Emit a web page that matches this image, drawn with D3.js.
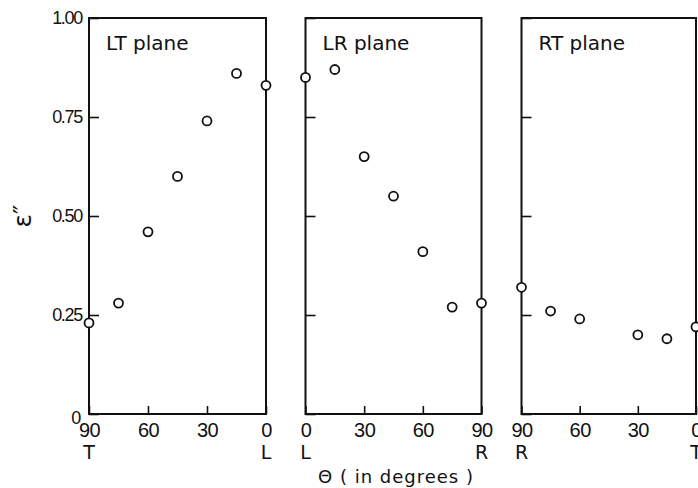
<!DOCTYPE html>
<html>
<head>
<meta charset="utf-8">
<script src="https://cdn.jsdelivr.net/npm/d3@7"></script>
<style>
  html, body { margin: 0; padding: 0; background: #fff; }
  svg { display: block; font-family: "DejaVu Sans", "Liberation Sans", sans-serif; }
</style>
</head>
<body>
<svg id="chart" width="698" height="488"></svg>
<script>
// Loss factor ε'' against grain angle Θ in three anatomical planes
const planeNames = ["LT plane", "LR plane", "RT plane"];

const angleLT = [90, 75, 60, 45, 30, 15, 0];
const valueLT = [0.23, 0.28, 0.46, 0.60, 0.74, 0.86, 0.83];

const angleLR = [0, 15, 30, 45, 60, 75, 90];
const valueLR = [0.85, 0.87, 0.65, 0.55, 0.41, 0.27, 0.28];

const angleRT = [90, 75, 60, 30, 15, 0];
const valueRT = [0.32, 0.26, 0.24, 0.20, 0.19, 0.22];

const yTickValues = [0, 0.25, 0.5, 0.75, 1];
const yTickLabels = ["0", "0.25", "0.50", "0.75", "1.00"];
const xTickValues = [90, 60, 30, 0];
const axisEndLabels = [["T", "L"], ["L", "R"], ["R", "T"]];

const yAxisTitle = "ε\u2033";
const xAxisTitle = "Θ ( in degrees )";

const svg = d3.select("#chart");
const ink = "#111";

// Shared vertical scale
const y = d3.scaleLinear().domain([0, 1]).range([414, 18]);

// Horizontal extent and direction of each panel
const panels = [
  { name: planeNames[0], angles: angleLT, values: valueLT, domain: [90, 0], range: [89, 266], ends: axisEndLabels[0], showY: true },
  { name: planeNames[1], angles: angleLR, values: valueLR, domain: [0, 90], range: [305.5, 481.5], ends: axisEndLabels[1], showY: false },
  { name: planeNames[2], angles: angleRT, values: valueRT, domain: [90, 0], range: [521.5, 696], ends: axisEndLabels[2], showY: false }
];

panels.forEach(p => {
  const x = d3.scaleLinear().domain(p.domain).range(p.range);
  const g = svg.append("g");

  // Frame
  g.append("rect")
    .attr("x", p.range[0]).attr("y", y(1))
    .attr("width", p.range[1] - p.range[0]).attr("height", y(0) - y(1))
    .attr("fill", "none").attr("stroke", ink).attr("stroke-width", 2);

  // Left axis: inward ticks
  const yAxis = d3.axisLeft(y)
    .tickValues(yTickValues)
    .tickSize(-10)
    .tickPadding(7)
    .tickFormat((d, i) => p.showY ? yTickLabels[i] : "");
  const ya = g.append("g").attr("transform", `translate(${p.range[0]},0)`).call(yAxis);
  ya.select(".domain").remove();
  ya.selectAll(".tick line").attr("stroke", ink).attr("stroke-width", 1.6);
  ya.selectAll(".tick text")
    .attr("fill", ink).style("font-size", "18px").style("letter-spacing", "-1.3px")
    .attr("font-family", null);
  ya.selectAll(".tick").filter(d => d === 0).select("text").attr("dy", "0.5em").attr("x", -9);

  // Bottom axis: inward ticks
  const xAxis = d3.axisBottom(x)
    .tickValues(xTickValues)
    .tickSize(-8)
    .tickPadding(9)
    .tickFormat(d3.format("d"));
  const xa = g.append("g").attr("transform", `translate(0,${y(0)})`).call(xAxis);
  xa.select(".domain").remove();
  xa.selectAll(".tick line").attr("stroke", ink).attr("stroke-width", 1.6);
  xa.selectAll(".tick text")
    .attr("fill", ink).style("font-size", "20px").style("letter-spacing", "-0.5px")
    .attr("font-family", null);

  // Direction letters under the end ticks
  g.selectAll("text.end")
    .data([p.domain[0], p.domain[1]])
    .join("text")
    .attr("class", "end")
    .attr("x", d => x(d))
    .attr("y", 459)
    .attr("text-anchor", "middle")
    .attr("fill", ink)
    .style("font-size", "19px")
    .text((d, i) => p.ends[i]);

  // Panel caption
  g.append("text")
    .attr("x", p.range[0] + 17)
    .attr("y", 50)
    .attr("fill", ink)
    .style("font-size", "20px")
    .text(p.name);

  // Measured points
  g.selectAll("circle")
    .data(p.angles.map((a, i) => [a, p.values[i]]))
    .join("circle")
    .attr("cx", d => x(d[0]))
    .attr("cy", d => y(d[1]))
    .attr("r", 4.5)
    .attr("fill", "#fff")
    .attr("stroke", ink)
    .attr("stroke-width", 1.8);
});

// Axis titles
svg.append("text")
  .attr("transform", `translate(31,216) rotate(-90)`)
  .attr("text-anchor", "middle")
  .attr("fill", ink)
  .style("font-size", "25px")
  .text(yAxisTitle);

svg.append("text")
  .attr("x", 396)
  .attr("y", 483)
  .attr("text-anchor", "middle")
  .attr("fill", ink)
  .style("font-size", "18px")
  .style("letter-spacing", "1px")
  .text(xAxisTitle);
</script>
</body>
</html>
